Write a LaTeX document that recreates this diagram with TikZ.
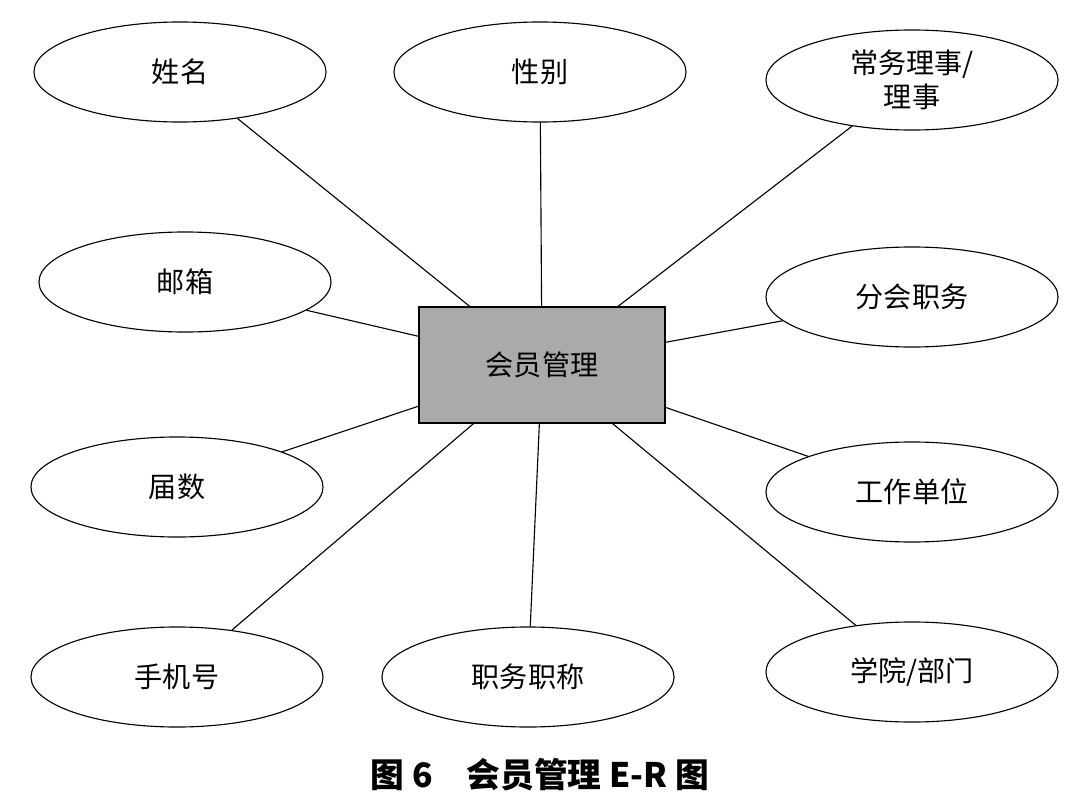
\documentclass[tikz,border=0pt]{standalone}
\usepackage{fontspec}
\setmainfont{Noto Sans CJK SC}
\usetikzlibrary{shapes.geometric}
\definecolor{entitygray}{RGB}{170,170,170}
\tikzstyle{attr} = [ellipse, draw=black, thick, minimum width=7.3cm, minimum height=2.5cm, inner sep=0pt, align=center]
\tikzstyle{entity} = [rectangle, draw=black, thick, fill=entitygray, minimum width=6.15cm, minimum height=2.9cm]
\tikzstyle{link} = [thick]

\begin{document}
\begin{tikzpicture}[x=0.025cm, y=-0.025cm, every node/.style={font=\fontsize{20}{24}\selectfont}]
    \useasboundingbox (0,0) rectangle (1087,803);

    \node[entity](center) at (542,365) {会员管理};

    \node[attr](name) at (180,72) {姓名};
    \node[attr](gender) at (540,72) {性别};
    \node[attr](council) at (912,80) {常务理事/\\理事};
    \node[attr](mail) at (185,282) {邮箱};
    \node[attr](branch) at (912,297) {分会职务};
    \node[attr](session) at (177,487) {届数};
    \node[attr](work) at (912,492) {工作单位};
    \node[attr](phone) at (177,677) {手机号};
    \node[attr](title) at (528,677) {职务职称};
    \node[attr](dept) at (912,672) {学院/部门};

    \foreach \a in {name,gender,council,mail,branch,session,work,phone,title,dept}
        \draw[link] (\a) -- (center);

    \node(caption) at (540,775) {\fontsize{24}{28}\selectfont\bfseries 图 6\quad 会员管理 E-R 图};
\end{tikzpicture}
\end{document}
